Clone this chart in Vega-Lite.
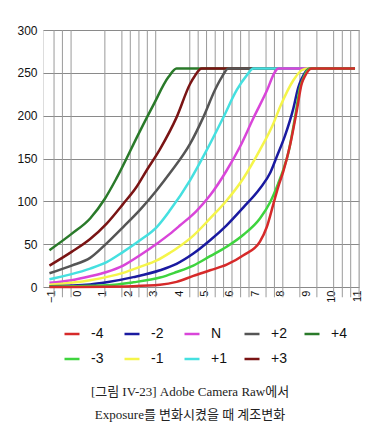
{
  "$schema": "https://vega.github.io/schema/vega-lite/v6.json",
  "width": 316,
  "height": 257,
  "autosize": {"type": "none"},
  "padding": {"left": 43, "top": 30, "right": 22, "bottom": 153},
  "background": "white",
  "config": {"axisX": {"labelOverlap": false, "labelBound": false, "labelFlush": false}},
  "title": {
    "text": ["[그림 IV-23] Adobe Camera Raw에서", "Exposure를 변화시켰을 때 계조변화"],
    "orient": "bottom",
    "anchor": "middle",
    "font": "Liberation Serif, Noto Sans CJK KR",
    "fontSize": 13,
    "fontWeight": "normal",
    "color": "#222222",
    "lineHeight": 23,
    "offset": 20,
    "dx": -11
  },
  "datasets": {
    "grid": [
      {"x": -0.92}, {"x": -0.59}, {"x": -0.25}, {"x": 1.08}, {"x": 1.75}, {"x": 2.08}, {"x": 2.42}, {"x": 2.75}, {"x": 3.08},
      {"x": 4.42}, {"x": 4.75}, {"x": 5.08}, {"x": 5.42}, {"x": 5.75}, {"x": 6.08}, {"x": 6.42}, {"x": 6.75},
      {"x": 7.42}, {"x": 7.75}, {"x": 8.08}, {"x": 8.75}, {"x": 9.42}, {"x": 10.08}, {"x": 10.42}, {"x": 10.75}, {"x": 11.08}
    ],
    "curves": [
      {"s": "+4", "x": -1.1, "y": 43}, {"s": "+4", "x": -0.23, "y": 62}, {"s": "+4", "x": 0.5, "y": 80}, {"s": "+4", "x": 1.08, "y": 103},
      {"s": "+4", "x": 1.54, "y": 127}, {"s": "+4", "x": 2.46, "y": 182}, {"s": "+4", "x": 2.98, "y": 212}, {"s": "+4", "x": 3.58, "y": 245},
      {"s": "+4", "x": 3.9, "y": 255}, {"s": "+4", "x": 10.92, "y": 255},

      {"s": "+3", "x": -1.1, "y": 25}, {"s": "+3", "x": -0.23, "y": 41}, {"s": "+3", "x": 0.5, "y": 56}, {"s": "+3", "x": 1.15, "y": 74},
      {"s": "+3", "x": 1.8, "y": 97}, {"s": "+3", "x": 2.33, "y": 117}, {"s": "+3", "x": 2.72, "y": 136}, {"s": "+3", "x": 3.25, "y": 161},
      {"s": "+3", "x": 3.9, "y": 198}, {"s": "+3", "x": 4.43, "y": 237}, {"s": "+3", "x": 4.63, "y": 247}, {"s": "+3", "x": 4.89, "y": 255},
      {"s": "+3", "x": 10.92, "y": 255},

      {"s": "+2", "x": -1.1, "y": 16}, {"s": "+2", "x": -0.23, "y": 25}, {"s": "+2", "x": 0.5, "y": 34}, {"s": "+2", "x": 1.15, "y": 51},
      {"s": "+2", "x": 1.8, "y": 70}, {"s": "+2", "x": 2.46, "y": 90}, {"s": "+2", "x": 3.12, "y": 113}, {"s": "+2", "x": 3.64, "y": 133},
      {"s": "+2", "x": 4.43, "y": 167}, {"s": "+2", "x": 4.95, "y": 198}, {"s": "+2", "x": 5.41, "y": 230}, {"s": "+2", "x": 5.68, "y": 245},
      {"s": "+2", "x": 5.94, "y": 255}, {"s": "+2", "x": 10.92, "y": 255},

      {"s": "+1", "x": -1.1, "y": 9}, {"s": "+1", "x": -0.23, "y": 15}, {"s": "+1", "x": 0.5, "y": 21.5}, {"s": "+1", "x": 1.15, "y": 29},
      {"s": "+1", "x": 1.8, "y": 41}, {"s": "+1", "x": 2.46, "y": 54.5}, {"s": "+1", "x": 3.12, "y": 70}, {"s": "+1", "x": 3.64, "y": 89.5},
      {"s": "+1", "x": 4.43, "y": 124.5}, {"s": "+1", "x": 5.09, "y": 160}, {"s": "+1", "x": 5.74, "y": 198}, {"s": "+1", "x": 6.27, "y": 230},
      {"s": "+1", "x": 6.66, "y": 247}, {"s": "+1", "x": 6.92, "y": 255}, {"s": "+1", "x": 10.92, "y": 255},

      {"s": "N", "x": -1.1, "y": 5}, {"s": "N", "x": -0.23, "y": 8}, {"s": "N", "x": 0.5, "y": 12.5}, {"s": "N", "x": 1.15, "y": 17.5},
      {"s": "N", "x": 1.8, "y": 25}, {"s": "N", "x": 2.46, "y": 37}, {"s": "N", "x": 3.12, "y": 50.5}, {"s": "N", "x": 3.64, "y": 62},
      {"s": "N", "x": 4.04, "y": 72}, {"s": "N", "x": 4.69, "y": 89}, {"s": "N", "x": 5.22, "y": 107}, {"s": "N", "x": 5.87, "y": 136},
      {"s": "N", "x": 6.4, "y": 164}, {"s": "N", "x": 6.92, "y": 197}, {"s": "N", "x": 7.45, "y": 229}, {"s": "N", "x": 7.77, "y": 251},
      {"s": "N", "x": 7.9, "y": 255}, {"s": "N", "x": 10.92, "y": 255},

      {"s": "-1", "x": -1.1, "y": 2.5}, {"s": "-1", "x": 0.5, "y": 8}, {"s": "-1", "x": 1.8, "y": 16.5}, {"s": "-1", "x": 2.46, "y": 23.5},
      {"s": "-1", "x": 3.12, "y": 31}, {"s": "-1", "x": 3.64, "y": 40}, {"s": "-1", "x": 3.9, "y": 45}, {"s": "-1", "x": 4.56, "y": 60},
      {"s": "-1", "x": 5.22, "y": 80}, {"s": "-1", "x": 5.87, "y": 101}, {"s": "-1", "x": 6.53, "y": 127}, {"s": "-1", "x": 7.18, "y": 160},
      {"s": "-1", "x": 7.71, "y": 191}, {"s": "-1", "x": 7.97, "y": 210}, {"s": "-1", "x": 8.49, "y": 241}, {"s": "-1", "x": 8.82, "y": 253},
      {"s": "-1", "x": 9.08, "y": 255}, {"s": "-1", "x": 10.92, "y": 255},

      {"s": "-2", "x": -1.1, "y": 1}, {"s": "-2", "x": 0.5, "y": 3}, {"s": "-2", "x": 1.15, "y": 5.5}, {"s": "-2", "x": 2.2, "y": 11.5},
      {"s": "-2", "x": 3.25, "y": 19.5}, {"s": "-2", "x": 3.9, "y": 27}, {"s": "-2", "x": 4.56, "y": 39}, {"s": "-2", "x": 5.22, "y": 54.5},
      {"s": "-2", "x": 5.87, "y": 72}, {"s": "-2", "x": 6.53, "y": 93}, {"s": "-2", "x": 7.18, "y": 115}, {"s": "-2", "x": 7.58, "y": 133},
      {"s": "-2", "x": 7.84, "y": 152}, {"s": "-2", "x": 8.17, "y": 177}, {"s": "-2", "x": 8.49, "y": 208}, {"s": "-2", "x": 8.69, "y": 233},
      {"s": "-2", "x": 8.82, "y": 243}, {"s": "-2", "x": 9.15, "y": 255}, {"s": "-2", "x": 10.92, "y": 255},

      {"s": "-3", "x": -1.1, "y": 0.5}, {"s": "-3", "x": 1.15, "y": 2}, {"s": "-3", "x": 2.2, "y": 5.5}, {"s": "-3", "x": 3.25, "y": 11},
      {"s": "-3", "x": 3.9, "y": 17.5}, {"s": "-3", "x": 4.56, "y": 25}, {"s": "-3", "x": 5.22, "y": 36}, {"s": "-3", "x": 5.87, "y": 47},
      {"s": "-3", "x": 6.53, "y": 61}, {"s": "-3", "x": 7.18, "y": 80}, {"s": "-3", "x": 7.58, "y": 99}, {"s": "-3", "x": 7.9, "y": 121},
      {"s": "-3", "x": 8.1, "y": 137}, {"s": "-3", "x": 8.3, "y": 157}, {"s": "-3", "x": 8.56, "y": 198}, {"s": "-3", "x": 8.76, "y": 233},
      {"s": "-3", "x": 8.9, "y": 245}, {"s": "-3", "x": 9.15, "y": 255}, {"s": "-3", "x": 10.92, "y": 255},

      {"s": "-4", "x": -1.1, "y": 0}, {"s": "-4", "x": 2.2, "y": 1}, {"s": "-4", "x": 3.25, "y": 2.5}, {"s": "-4", "x": 3.9, "y": 6},
      {"s": "-4", "x": 4.56, "y": 13}, {"s": "-4", "x": 5.22, "y": 19.5}, {"s": "-4", "x": 5.87, "y": 26}, {"s": "-4", "x": 6.53, "y": 37},
      {"s": "-4", "x": 7.18, "y": 53}, {"s": "-4", "x": 7.45, "y": 70}, {"s": "-4", "x": 7.71, "y": 97}, {"s": "-4", "x": 7.9, "y": 117},
      {"s": "-4", "x": 8.1, "y": 135}, {"s": "-4", "x": 8.36, "y": 165}, {"s": "-4", "x": 8.63, "y": 206}, {"s": "-4", "x": 8.82, "y": 237},
      {"s": "-4", "x": 8.95, "y": 246}, {"s": "-4", "x": 9.21, "y": 255}, {"s": "-4", "x": 10.92, "y": 255}
    ]
  },
  "layer": [
    {
      "data": {"name": "grid"},
      "mark": {"type": "rule", "color": "#9a9a9a", "strokeWidth": 1},
      "encoding": {
        "x": {
          "field": "x", "type": "quantitative", "title": null,
          "scale": {"domain": [-1.354, 11.077], "nice": false, "zero": false},
          "axis": {"values": [-1, 0, 1, 2, 3, 4, 5, 6, 7, 8, 9, 10, 11], "grid": false, "domain": false, "ticks": false,
                   "labelAngle": -90, "labelOverlap": false, "labelFont": "Liberation Sans", "labelFontSize": 11, "labelColor": "#111111", "labelPadding": 3}
        },
        "y": {"datum": 300, "type": "quantitative", "title": null},
        "y2": {"datum": -12}
      }
    },
    {
      "data": {"name": "curves"},
      "mark": {"type": "line", "strokeWidth": 2.5, "strokeJoin": "round", "interpolate": "monotone"},
      "encoding": {
        "x": {
          "field": "x", "type": "quantitative", "title": null,
          "scale": {"domain": [-1.354, 11.077], "nice": false, "zero": false},
          "axis": {"values": [-1, 0, 1, 2, 3, 4, 5, 6, 7, 8, 9, 10, 11], "grid": false, "domain": false, "ticks": false,
                   "labelAngle": -90, "labelOverlap": false, "labelFont": "Liberation Sans", "labelFontSize": 11, "labelColor": "#111111", "labelPadding": 3}
        },
        "y": {
          "field": "y", "type": "quantitative", "title": null,
          "scale": {"domain": [0, 300], "nice": false},
          "axis": {"values": [0, 50, 100, 150, 200, 250, 300], "grid": true, "gridColor": "#8a8a8a", "gridWidth": 1, "domain": false, "ticks": false,
                   "labelFont": "Liberation Sans", "labelFontSize": 12, "labelColor": "#111111", "labelPadding": 6}
        },
        "color": {
          "field": "s", "type": "nominal", "title": null,
          "scale": {
            "domain": ["-4", "-2", "N", "+2", "+4", "-3", "-1", "+1", "+3"],
            "range": ["#d62a2a", "#1a1aa0", "#d945d9", "#555555", "#2a7a2a", "#3ed43e", "#f5f54a", "#45e0e0", "#7a1414"]
          },
          "legend": {
            "orient": "none", "legendX": 20, "legendY": 295, "direction": "horizontal", "columns": 5,
            "symbolType": "stroke", "symbolSize": 225, "symbolStrokeWidth": 2.5,
            "labelFont": "Liberation Sans", "labelFontSize": 14, "labelColor": "#111111", "labelOffset": 10,
            "columnPadding": 12, "rowPadding": 9, "gridAlign": "all", "padding": 0
          }
        }
      }
    }
  ]
}
